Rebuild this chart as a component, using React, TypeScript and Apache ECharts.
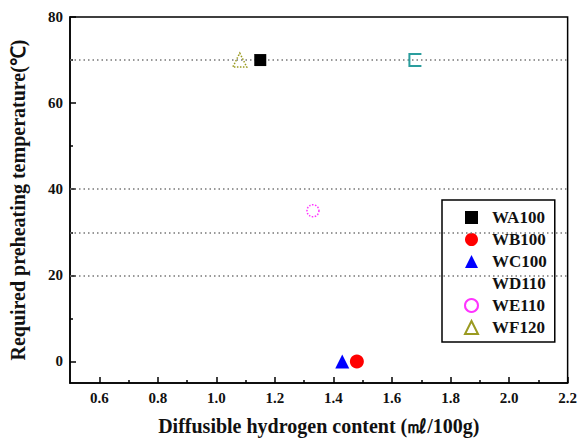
import React, { useEffect, useRef } from "react";
import * as echarts from "echarts";

const seriesNames = ["WA100", "WB100", "WC100", "WD110", "WE110", "WF120"];
const hydrogen = [1.15, 1.48, 1.43, 1.68, 1.33, 1.08];
const temperature = [70, 0, 0, 70, 35, 70];
const xMajorTicks = [0.6, 0.8, 1.0, 1.2, 1.4, 1.6, 1.8, 2.0, 2.2];
const xMinorTicks = [0.7, 0.9, 1.1, 1.3, 1.5, 1.7, 1.9, 2.1];
const yMajorTicks = [0, 20, 40, 60, 80];
const yMinorTicks = [10, 30, 50, 70];
const refLines = [70, 40, 30, 20];

const FONT = "'Liberation Serif', 'Times New Roman', serif";

export default function App() {
  const ref = useRef<HTMLDivElement>(null);
  useEffect(() => {
    if (!ref.current) return;
    const chart = echarts.init(ref.current, null, { renderer: "svg" });
    const styles: any[] = [
      { symbol: "rect", size: 12, itemStyle: { color: "#000", opacity: 1 } },
      { symbol: "circle", size: 14, itemStyle: { color: "#ff0000", opacity: 1 } },
      { symbol: "triangle", size: 14, itemStyle: { color: "#0000ff", opacity: 1 } },
      {
        symbol: "path://M10,0 L0,0 L0,10 L10,10",
        size: 12,
        itemStyle: { color: "transparent", borderColor: "#2a9d9d", borderWidth: 2, opacity: 1 },
      },
      {
        symbol: "circle",
        size: 12,
        itemStyle: { color: "transparent", borderColor: "#ff33ff", borderWidth: 1.5, borderType: "dotted", opacity: 1 },
      },
      {
        symbol: "triangle",
        size: 14,
        itemStyle: { color: "transparent", borderColor: "#9a9a20", borderWidth: 1.5, borderType: "dotted", opacity: 1 },
      },
    ];
    const series: any[] = seriesNames.map((name, i) => ({
      name,
      type: "scatter",
      symbol: styles[i].symbol,
      symbolSize: styles[i].size,
      itemStyle: styles[i].itemStyle,
      data: [[hydrogen[i], temperature[i]]],
      z: 5,
    }));
    series.push({
      name: "ref",
      type: "scatter",
      data: [],
      silent: true,
      markLine: {
        silent: true,
        symbol: "none",
        label: { show: false },
        lineStyle: { color: "#777", type: [1.5, 3], width: 1.5 },
        data: refLines.map((v) => ({ yAxis: v })),
      },
      z: 1,
    });

    const axisBase = {
      type: "value",
      axisLine: { show: true, onZero: false, lineStyle: { color: "#000", width: 1.5 } },
      splitLine: { show: false },
    };

    chart.setOption({
      animation: false,
      backgroundColor: "#fff",
      grid: {
        left: 68,
        top: 17,
        right: 12,
        bottom: 54,
        show: true,
        borderColor: "#000",
        borderWidth: 1.5,
        backgroundColor: "transparent",
      },
      legend: {
        orient: "vertical",
        left: 442,
        top: 200,
        width: 116,
        height: 143,
        padding: [9, 8, 6, 22],
        itemGap: 5,
        itemWidth: 13,
        itemHeight: 13,
        backgroundColor: "#fff",
        borderColor: "#000",
        borderWidth: 1.5,
        data: seriesNames.map((n) => (n === "WD110" ? { name: n, icon: "none" } : { name: n })),
        textStyle: {
          fontFamily: FONT,
          fontWeight: "bold",
          fontSize: 17,
          color: "#111",
          padding: [0, 0, 0, 9],
        },
        selectedMode: false,
      },
      xAxis: [
        {
          ...axisBase,
          min: 0.5,
          max: 2.2,
          name: "Diffusible hydrogen content (㎖/100g)",
          nameLocation: "middle",
          nameGap: 33,
          nameTextStyle: { fontFamily: FONT, fontWeight: "bold", fontSize: 20, color: "#111" },
          axisTick: { inside: true, length: 6, customValues: xMajorTicks, lineStyle: { color: "#000", width: 1.5 } },
          axisLabel: {
            customValues: xMajorTicks,
            formatter: (v: number) => v.toFixed(1),
            fontFamily: FONT,
            fontWeight: "bold",
            fontSize: 15,
            color: "#111",
            margin: 7,
          },
        },
        {
          ...axisBase,
          min: 0.5,
          max: 2.2,
          position: "bottom",
          axisLine: { show: false, onZero: false },
          axisTick: { inside: true, length: 3, customValues: xMinorTicks, lineStyle: { color: "#000", width: 1.5 } },
          axisLabel: { show: false },
        },
      ],
      yAxis: [
        {
          ...axisBase,
          min: -5,
          max: 80,
          name: "Required preheating temperature(℃)",
          nameLocation: "middle",
          nameGap: 42,
          nameTextStyle: { fontFamily: FONT, fontWeight: "bold", fontSize: 20, color: "#111" },
          axisTick: { inside: true, length: 6, customValues: yMajorTicks, lineStyle: { color: "#000", width: 1.5 } },
          axisLabel: {
            customValues: yMajorTicks,
            fontFamily: FONT,
            fontWeight: "bold",
            fontSize: 15,
            color: "#111",
            margin: 7,
          },
        },
        {
          ...axisBase,
          min: -5,
          max: 80,
          position: "left",
          axisLine: { show: false, onZero: false },
          axisTick: { inside: true, length: 3, customValues: yMinorTicks, lineStyle: { color: "#000", width: 1.5 } },
          axisLabel: { show: false },
        },
      ],
      series,
    });
    return () => chart.dispose();
  }, []);
  return (
    <div
      ref={ref}
      style={{ position: "fixed", left: 0, top: 0, width: 580, height: 441 }}
    />
  );
}
